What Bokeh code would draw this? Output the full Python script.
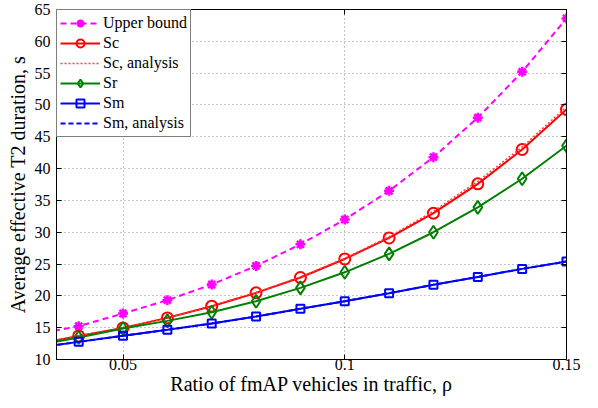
from bokeh.plotting import figure
from bokeh.models import Range1d, LinearAxis, FixedTicker
from bokeh.embed import file_html
from bokeh.resources import INLINE

# ---- data ----
rho = [0.03, 0.04, 0.05, 0.06, 0.07, 0.08, 0.09, 0.10, 0.11, 0.12, 0.13, 0.14, 0.15]
upper_bound = [13.9, 15.24, 17.23, 19.32, 21.78, 24.71, 28.1, 32.0, 36.5, 41.8, 48.0, 55.2, 63.6]
sc = [12.4, 13.7, 14.97, 16.54, 18.38, 20.47, 22.88, 25.8, 29.1, 33.0, 37.6, 43.0, 49.3]
sc_analysis = [12.4, 13.7, 14.97, 16.56, 18.42, 20.53, 22.97, 25.9, 29.3, 33.3, 38.0, 43.4, 49.7]
sr = [12.2, 13.45, 14.87, 16.07, 17.43, 19.16, 21.26, 23.7, 26.6, 30.0, 33.9, 38.4, 43.6]
sm = [11.8, 12.77, 13.72, 14.66, 15.65, 16.75, 17.96, 19.16, 20.42, 21.73, 22.98, 24.24, 25.39]
sm_analysis = [11.8, 12.77, 13.72, 14.66, 15.65, 16.75, 17.96, 19.16, 20.42, 21.73, 22.98, 24.24, 25.39]

x_ticks = [0.05, 0.1, 0.15]
x_tick_labels = {0.05: "0.05", 0.1: "0.1", 0.15: "0.15"}
y_ticks = [10, 15, 20, 25, 30, 35, 40, 45, 50, 55, 60, 65]

FONT = "Liberation Serif"

p = figure(width=582, height=400, output_backend="svg", toolbar_location=None,
           x_range=Range1d(0.035, 0.15), y_range=Range1d(10, 65),
           min_border_left=56, min_border_right=16, min_border_top=9, min_border_bottom=41,
           background_fill_color="white", border_fill_color="white")

p.outline_line_color = "black"
p.outline_line_width = 1

# axes
for ax in [p.xaxis[0], p.yaxis[0]]:
    ax.major_tick_in = 5
    ax.major_tick_out = 0
    ax.minor_tick_line_color = None
    ax.axis_line_color = "black"
    ax.major_tick_line_color = "black"
    ax.major_label_text_font = FONT
    ax.major_label_text_font_size = "16px"
    ax.major_label_text_color = "black"
    ax.axis_label_text_font = FONT
    ax.axis_label_text_font_size = "20px"
    ax.axis_label_text_font_style = "normal"
    ax.axis_label_text_color = "black"

p.xaxis[0].ticker = FixedTicker(ticks=x_ticks)
p.xaxis[0].major_label_overrides = x_tick_labels
p.xaxis[0].axis_label = "Ratio of fmAP vehicles in traffic, ρ"
p.xaxis[0].major_label_standoff = -1
p.xaxis[0].axis_label_standoff = 0
p.yaxis[0].ticker = FixedTicker(ticks=y_ticks)
p.yaxis[0].axis_label = "Average effective T2 duration, s"
p.yaxis[0].major_label_standoff = 6
p.yaxis[0].axis_label_standoff = 3

# mirrored ticks on top and right (no labels)
top = LinearAxis(ticker=FixedTicker(ticks=x_ticks), major_tick_in=5, major_tick_out=0,
                 minor_tick_line_color=None, major_label_text_font_size="1px",
                 major_label_text_color=None, major_label_standoff=0,
                 axis_line_color="black")
right = LinearAxis(ticker=FixedTicker(ticks=y_ticks), major_tick_in=5, major_tick_out=0,
                   minor_tick_line_color=None, major_label_text_font_size="1px",
                   major_label_text_color=None, major_label_standoff=0,
                   axis_line_color="black")
p.add_layout(top, "above")
p.add_layout(right, "right")

# grid
for g in [p.xgrid[0], p.ygrid[0]]:
    g.grid_line_color = "#404040"
    g.grid_line_alpha = 0.6
    g.grid_line_dash = "1 3"
    g.grid_line_width = 1

MAG = "#ff00ff"
RED = "#ff0000"
GRN = "#008000"
BLU = "#0000ff"

p.line(rho, upper_bound, line_color=MAG, line_width=2, line_dash="6 4", legend_label="Upper bound")
p.scatter(rho, upper_bound, marker="asterisk", size=10, line_color=MAG, line_width=2.5,
          legend_label="Upper bound")

p.line(rho, sc, line_color=RED, line_width=2, legend_label="Sc")
p.scatter(rho, sc, marker="circle", size=11, line_color=RED, fill_color=None, line_width=2,
          legend_label="Sc")

p.line(rho, sc_analysis, line_color="#ff4040", line_width=1.5, line_dash="2 2",
       legend_label="Sc, analysis")

p.line(rho, sr, line_color=GRN, line_width=2, legend_label="Sr")
p.scatter(rho, sr, marker="diamond", size=13, line_color=GRN, fill_color=None, line_width=2,
          legend_label="Sr")

p.line(rho, sm, line_color=BLU, line_width=2, legend_label="Sm")
p.scatter(rho, sm, marker="square", size=8, line_color=BLU, fill_color=None, line_width=2,
          legend_label="Sm")

p.line(rho, sm_analysis, line_color=BLU, line_width=2, line_dash="5 3", legend_label="Sm, analysis")

lg = p.legend[0]
lg.location = "top_left"
lg.margin = 0
lg.padding = 3
lg.spacing = 0
lg.border_line_color = "black"
lg.border_line_width = 1
lg.background_fill_color = "white"
lg.background_fill_alpha = 1
lg.label_text_font = FONT
lg.label_text_font_size = "16px"
lg.label_text_color = "black"
lg.label_height = 20
lg.glyph_height = 20
lg.glyph_width = 40
lg.label_width = 84
lg.label_standoff = 3

open("out.html", "w").write(file_html(p, INLINE))
